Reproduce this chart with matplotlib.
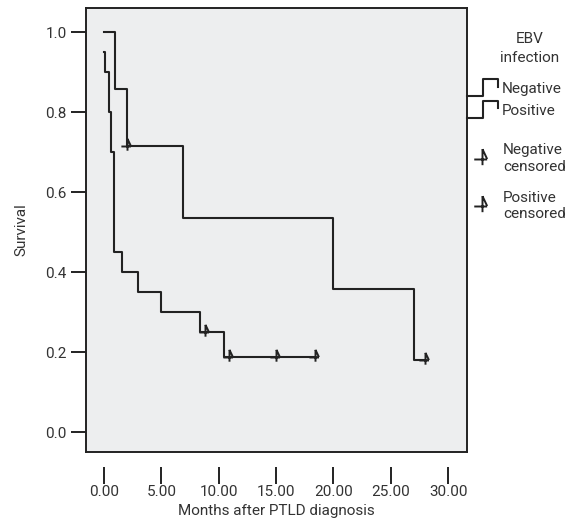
import matplotlib
matplotlib.use("Agg")
import matplotlib.pyplot as plt
from matplotlib.lines import Line2D
from matplotlib.path import Path
from matplotlib.legend_handler import HandlerBase

plt.rcParams['font.family'] = ['Roboto', 'DejaVu Sans']

# ---- data ----
neg_times = [0.0, 1.0, 2.0, 6.9, 20.0, 27.0, 28.0]
neg_surv = [1.0, 0.857, 0.714, 0.536, 0.357, 0.179, 0.179]
neg_cens_t = [2.0, 28.0]
neg_cens_s = [0.714, 0.179]

pos_times = [0.0, 0.05, 0.4, 0.6, 0.9, 1.55, 3.0, 5.0, 8.4, 10.5, 18.4]
pos_surv = [0.95, 0.90, 0.80, 0.70, 0.45, 0.40, 0.35, 0.30, 0.25, 0.1875, 0.1875]
pos_cens_t = [8.8, 10.9, 15.0, 18.4]
pos_cens_s = [0.25, 0.1875, 0.1875, 0.1875]

x_ticks = [0, 5, 10, 15, 20, 25, 30]
y_ticks = [0.0, 0.2, 0.4, 0.6, 0.8, 1.0]

legend_title = "EBV\ninfection"
series_labels = ["Negative", "Positive"]
censor_labels = ["Negative\ncensored", "Positive\ncensored"]

# ---- style ----
ink = "#222222"
txt = "#333333"
fs = 11

cverts = [(0, -0.55), (0, 1), (-0.8, 0), (0.45, 0), (0, 1), (0.45, 0.05)]
ccodes = [Path.MOVETO, Path.LINETO, Path.MOVETO, Path.LINETO,
          Path.MOVETO, Path.LINETO]
censor_marker = Path(cverts, ccodes)

fig = plt.figure(figsize=(5.7, 5.2), dpi=100)
ax = fig.add_axes([86 / 570, 68 / 520, (467 - 86) / 570, (452 - 8) / 520])
ax.set_facecolor("#EDEEEF")

ln_neg, = ax.plot(neg_times, neg_surv, drawstyle="steps-post", color=ink, lw=1.5)
ln_pos, = ax.plot(pos_times, pos_surv, drawstyle="steps-post", color=ink, lw=1.5)
cm_neg, = ax.plot(neg_cens_t, neg_cens_s, ls="none", marker=censor_marker,
                  markersize=11, color=ink, mfc="none", mew=1.4)
cm_pos, = ax.plot(pos_cens_t, pos_cens_s, ls="none", marker=censor_marker,
                  markersize=11, color=ink, mfc="none", mew=1.4)

ax.set_xlim(-1.57, 31.65)
ax.set_ylim(-0.05, 1.06)

for s in ax.spines.values():
    s.set_color(ink)
    s.set_linewidth(1.4)

ax.set_yticks(y_ticks)
ax.set_yticklabels([f"{v:.1f}" for v in y_ticks])
ax.tick_params(axis="y", length=11, width=1.4, color=ink, labelsize=fs,
               labelcolor=txt, pad=3)
ax.set_xticks([])

sec = ax.secondary_xaxis("bottom")
sec.spines["bottom"].set_position(("outward", 11))
sec.spines["bottom"].set_visible(False)
sec.set_xticks(x_ticks)
sec.set_xticklabels([f"{v:.2f}" for v in x_ticks])
sec.tick_params(axis="x", length=12, width=1.4, color=ink, labelsize=fs,
                labelcolor=txt, pad=1)
sec.set_xlabel("Months after PTLD diagnosis", fontsize=fs, color=txt, labelpad=3)

ax.set_ylabel("Survival", fontsize=fs, color=txt, labelpad=12)


class HandlerStep(HandlerBase):
    def create_artists(self, legend, orig_handle, xdescent, ydescent,
                       width, height, fontsize, trans):
        x0, y0 = -xdescent, -ydescent
        xm = x0 + 0.53 * width
        ys_low = y0 - 0.1 * height
        ys_high = y0 + 1.15 * height
        xs = [x0, xm, xm, x0 + width, x0 + width]
        ys = [ys_low, ys_low, ys_high, ys_high, y0 + 0.6 * height]
        return [Line2D(xs, ys, color=orig_handle.get_color(),
                       lw=orig_handle.get_linewidth(), transform=trans)]


leg1 = ax.legend([ln_neg, ln_pos], series_labels,
                 handler_map={Line2D: HandlerStep()},
                 loc="upper left", bbox_to_anchor=(1.0, 0.8355),
                 frameon=False, borderpad=0, borderaxespad=0,
                 handlelength=2.0, handleheight=1.0, handletextpad=0.3,
                 labelspacing=0.45, fontsize=fs)
for t in leg1.get_texts():
    t.set_color(txt)
ax.add_artist(leg1)

ax.annotate(legend_title, xy=(1.0, 1.0), xycoords=leg1,
            xytext=(-32, 16), textcoords="offset pixels",
            ha="center", va="bottom", multialignment="center",
            linespacing=1.5, fontsize=fs, color=txt)

leg2 = ax.legend([cm_neg, cm_pos], censor_labels,
                 loc="upper left", bbox_to_anchor=(1.0, 0.695),
                 frameon=False, borderpad=0, borderaxespad=0,
                 handlelength=2.0, handletextpad=0.35, markerscale=1.35,
                 labelspacing=1.15, fontsize=fs)
for t in leg2.get_texts():
    t.set_color(txt)

fig.savefig("out.png", dpi=100)
